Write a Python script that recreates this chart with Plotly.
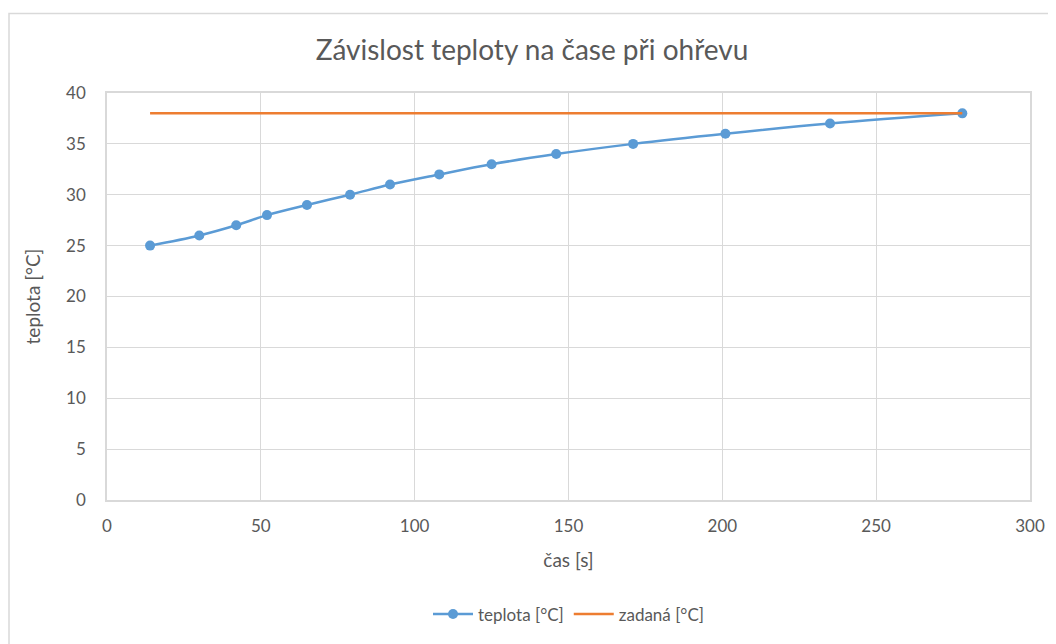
import plotly.graph_objects as go

cas = [14, 30, 42, 52, 65, 79, 92, 108, 125, 146, 171, 201, 235, 278]
teplota = [25, 26, 27, 28, 29, 30, 31, 32, 33, 34, 35, 36, 37, 38]
zadana_x = [14, 278]
zadana_y = [38, 38]

x_ticks = [0, 50, 100, 150, 200, 250, 300]
y_ticks = [0, 5, 10, 15, 20, 25, 30, 35, 40]

font_family = "Lato, 'Open Sans', sans-serif"
grey = "#595959"
clear = "rgba(0,0,0,0)"

fig = go.Figure()
fig.add_trace(go.Scatter(
    x=cas, y=teplota, name="teplota [°C]", mode="lines+markers",
    line=dict(color="#5b9bd5", width=2.5, shape="spline"),
    marker=dict(size=10, color="#5b9bd5"),
))
fig.add_trace(go.Scatter(
    x=zadana_x, y=zadana_y, name="zadaná [°C]", mode="lines",
    line=dict(color="#ed7d31", width=2.5),
))

fig.update_layout(
    width=1048, height=636,
    margin=dict(l=99, r=26, t=85, b=142),
    paper_bgcolor="white", plot_bgcolor="white",
    font=dict(family=font_family, color=grey, size=16),
    title=dict(text="Závislost teploty na čase při ohřevu", x=0.5, xanchor="center",
               y=(644 - 50) / 636, yanchor="middle",
               font=dict(size=28, color=grey, family=font_family)),
    xaxis=dict(range=[0, 300], tickvals=x_ticks, showgrid=True, gridcolor="#d9d9d9",
               showline=True, linecolor="#d9d9d9", linewidth=1.5, mirror=True,
               zeroline=False, ticks="outside", ticklen=10, tickcolor=clear,
               tickfont=dict(size=17, color=grey),
               title=dict(text="čas [s]", font=dict(size=19, color=grey), standoff=19)),
    yaxis=dict(range=[0, 40], tickvals=y_ticks, showgrid=True, gridcolor="#d9d9d9",
               showline=True, linecolor="#d9d9d9", linewidth=1.5, mirror=True,
               zeroline=False, ticks="outside", ticklen=16, tickcolor=clear,
               tickfont=dict(size=17, color=grey),
               title=dict(text="teplota [°C]", font=dict(size=19, color=grey), standoff=20)),
    legend=dict(orientation="h", x=0.5, xanchor="center", y=(502 - 617) / 409, yanchor="middle",
                font=dict(size=17, color=grey), itemwidth=40),
    showlegend=True,
)

fig.add_shape(type="rect", xref="paper", yref="paper",
              x0=(9 - 107) / 923, x1=(1070 - 107) / 923,
              y0=(502 - 660) / 409, y1=(502 - 13) / 409,
              line=dict(color="#d9d9d9", width=1.5), layer="below")

fig.write_html("out.html")
